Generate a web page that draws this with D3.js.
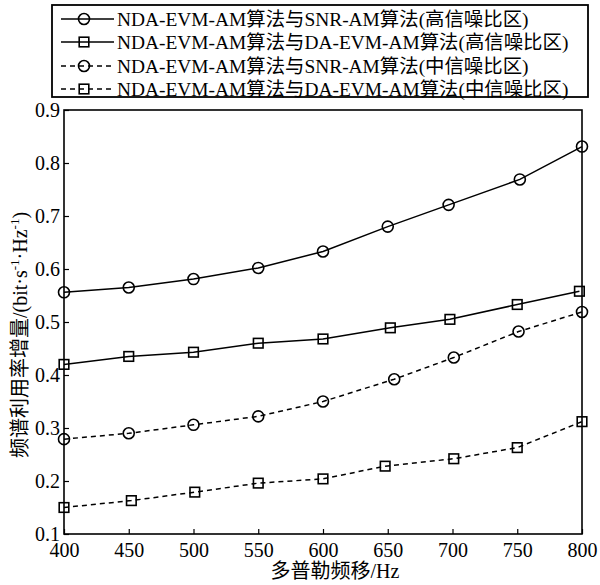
<!DOCTYPE html>
<html>
<head>
<meta charset="utf-8">
<script src="https://cdn.jsdelivr.net/npm/d3@7"></script>
<style>
  html, body { margin: 0; padding: 0; background: #fff; }
  svg text { font-family: "Liberation Serif", "Times New Roman", "Noto Sans CJK SC", serif; fill: #000; }
</style>
</head>
<body>
<svg id="chart" width="600" height="585"></svg>
<script>
// ---- Data ----
const doppler = [400, 450, 500, 550, 600, 650, 700, 750, 800];
const xTicks = [400, 450, 500, 550, 600, 650, 700, 750, 800];
const yTicks = [0.1, 0.2, 0.3, 0.4, 0.5, 0.6, 0.7, 0.8, 0.9];
const seriesNames = [
  "NDA-EVM-AM算法与SNR-AM算法(高信噪比区)",
  "NDA-EVM-AM算法与DA-EVM-AM算法(高信噪比区)",
  "NDA-EVM-AM算法与SNR-AM算法(中信噪比区)",
  "NDA-EVM-AM算法与DA-EVM-AM算法(中信噪比区)"
];
// x positions as plotted (markers sit slightly off some ticks)
const xSnrHigh = [400, 450, 500, 550, 600, 650, 697, 752, 800];
const xDaHigh  = [400, 450, 500, 550, 600, 652, 698, 750, 798];
const xSnrMid  = [400, 450, 500, 550, 600, 655, 701, 751, 800];
const xDaMid   = [400, 452, 501, 550, 600, 648, 701, 750, 800];
const snrHigh = [0.556, 0.565, 0.581, 0.602, 0.633, 0.680, 0.721, 0.769, 0.831];
const daHigh  = [0.420, 0.435, 0.443, 0.460, 0.468, 0.489, 0.505, 0.533, 0.558];
const snrMid  = [0.279, 0.290, 0.306, 0.322, 0.350, 0.392, 0.433, 0.482, 0.519];
const daMid   = [0.150, 0.163, 0.179, 0.196, 0.204, 0.228, 0.242, 0.263, 0.312];
const markers = ["circle", "square", "circle", "square"];
const dashes = [null, null, "5,4", "5,4"];

const seriesX = [xSnrHigh, xDaHigh, xSnrMid, xDaMid];
const seriesY = [snrHigh, daHigh, snrMid, daMid];

// ---- Layout ----
const svg = d3.select("#chart");
const pL = 64, pR = 582, pT = 110, pB = 534;
const x = d3.scaleLinear().domain([400, 800]).range([pL, pR]);
const y = d3.scaleLinear().domain([0.1, 0.9]).range([pB, pT]);
const FS = 20;

// axes box
svg.append("rect")
  .attr("x", pL).attr("y", pT)
  .attr("width", pR - pL).attr("height", pB - pT)
  .attr("fill", "none").attr("stroke", "#000").attr("stroke-width", 1.6);

// x axis
const xAxis = d3.axisBottom(x).tickValues(xTicks).tickSizeInner(-5).tickSizeOuter(0).tickPadding(9)
  .tickFormat(d3.format("d"));
const gx = svg.append("g").attr("transform", `translate(0,${pB})`).call(xAxis);
gx.select(".domain").remove();
gx.selectAll("line").attr("stroke", "#000").attr("stroke-width", 1.2);
gx.selectAll("text").attr("font-size", FS).attr("font-family", null).style("fill", "#000");

// y axis
const yAxis = d3.axisLeft(y).tickValues(yTicks).tickSizeInner(-5).tickSizeOuter(0).tickPadding(4)
  .tickFormat(d3.format(".1f"));
const gy = svg.append("g").attr("transform", `translate(${pL},0)`).call(yAxis);
gy.select(".domain").remove();
gy.selectAll("line").attr("stroke", "#000").attr("stroke-width", 1.2);
gy.selectAll("text").attr("font-size", FS).attr("font-family", null).style("fill", "#000")
  .attr("dy", "0.3em");

// axis titles
svg.append("text")
  .attr("x", 335).attr("y", 578)
  .attr("text-anchor", "middle").attr("font-size", FS)
  .text("多普勒频移/Hz");

const yt = svg.append("text")
  .attr("transform", `translate(27,${335}) rotate(-90)`)
  .attr("text-anchor", "middle").attr("font-size", FS);
yt.append("tspan").text("频谱利用率增量/(bit·s");
yt.append("tspan").attr("font-size", 13).attr("dy", -8).text("-1");
yt.append("tspan").attr("dy", 8).text("·Hz");
yt.append("tspan").attr("font-size", 13).attr("dy", -8).text("-1");
yt.append("tspan").attr("dy", 8).text(")");

// marker helper
function drawMarker(g, type, cx, cy) {
  if (type === "circle") {
    g.append("circle").attr("cx", cx).attr("cy", cy).attr("r", 5.5)
      .attr("fill", "none").attr("stroke", "#000").attr("stroke-width", 1.6);
  } else {
    g.append("rect").attr("x", cx - 4.8).attr("y", cy - 4.8).attr("width", 9.6).attr("height", 9.6)
      .attr("fill", "none").attr("stroke", "#000").attr("stroke-width", 1.6);
  }
}

// series
const line = d3.line().x(d => x(d[0])).y(d => y(d[1]));
seriesY.forEach((vals, i) => {
  const pts = vals.map((v, j) => [seriesX[i][j], v]);
  const g = svg.append("g");
  g.append("path").datum(pts)
    .attr("d", line).attr("fill", "none").attr("stroke", "#000")
    .attr("stroke-width", 1.5)
    .attr("stroke-dasharray", dashes[i]);
  pts.forEach(p => drawMarker(g, markers[i], x(p[0]), y(p[1])));
});

// legend
const lg = svg.append("g");
lg.append("rect").attr("x", 52).attr("y", 5).attr("width", 536).attr("height", 92)
  .attr("fill", "#fff").attr("stroke", "#000").attr("stroke-width", 1.8);
const rowY = [19, 42, 66, 89];
seriesNames.forEach((name, i) => {
  const ry = rowY[i];
  lg.append("line").attr("x1", 61).attr("x2", 114).attr("y1", ry).attr("y2", ry)
    .attr("stroke", "#000").attr("stroke-width", 1.5)
    .attr("stroke-dasharray", dashes[i]);
  drawMarker(lg, markers[i], 84, ry);
  lg.append("text").attr("x", 117).attr("y", ry + 7)
    .attr("font-size", 19.4).text(name);
});
</script>
</body>
</html>
